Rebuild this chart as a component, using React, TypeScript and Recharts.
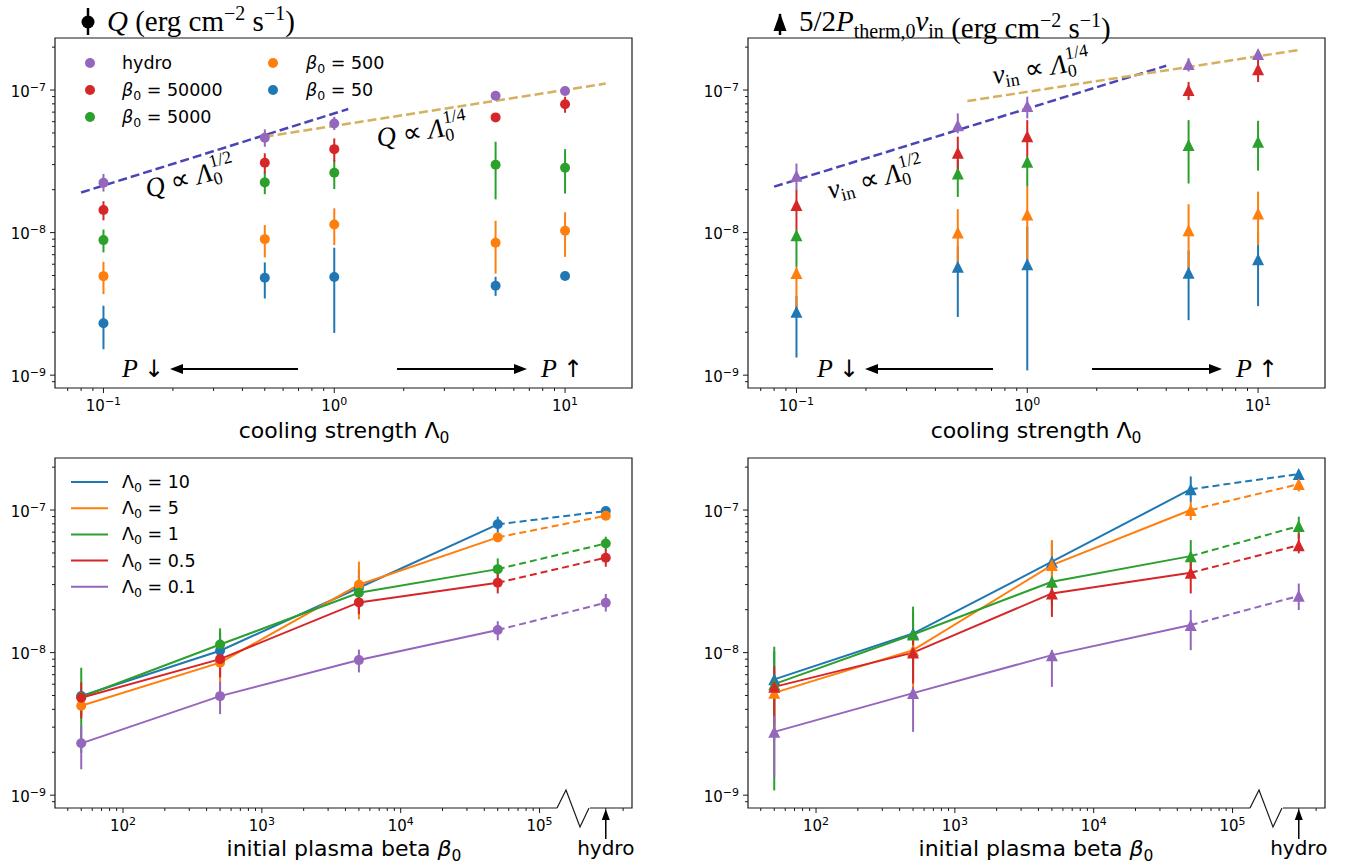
import React from "react";
import {
  ComposedChart,
  Scatter,
  Line,
  XAxis,
  YAxis,
  ErrorBar,
  ReferenceArea,
} from "recharts";

const SANS = "DejaVu Sans";
const SERIF = "Liberation Serif";
const INK = "#1a1a1a";

const BLUE = "#1f77b4";
const ORANGE = "#ff7f0e";
const GREEN = "#2ca02c";
const RED = "#d62728";
const PURPLE = "#9467bd";
const FIT_HALF = "#4a45b5";
const FIT_QUARTER = "#d4b060";

// cooling strengths and initial plasma beta of the runs
const LAMBDA = [0.1, 0.5, 1, 5, 10];
const BETA = [50, 500, 5000, 50000];
const HYDRO_X = 3e5; // where the hydro runs sit on the beta axis

// heating rate Q per beta run, one value per LAMBDA
const qBeta50 = [2.31e-9, 4.82e-9, 4.88e-9, 4.24e-9, 4.96e-9];
const qBeta500 = [4.95e-9, 9.0e-9, 1.14e-8, 8.5e-9, 1.03e-8];
const qBeta5000 = [8.86e-9, 2.25e-8, 2.63e-8, 2.99e-8, 2.85e-8];
const qBeta50000 = [1.44e-8, 3.09e-8, 3.85e-8, 6.43e-8, 7.94e-8];
const qHydro = [2.24e-8, 4.63e-8, 5.83e-8, 9.12e-8, 9.84e-8];

// [lower, upper] bounds of Q
const qBeta50Err = [[1.52e-9, 3.07e-9], [3.45e-9, 6.18e-9], [1.98e-9, 7.83e-9], [3.6e-9, 4.9e-9], [4.65e-9, 5.31e-9]];
const qBeta500Err = [[3.7e-9, 6.24e-9], [6.7e-9, 1.13e-8], [8.17e-9, 1.48e-8], [5.16e-9, 1.21e-8], [6.76e-9, 1.39e-8]];
const qBeta5000Err = [[7.26e-9, 1.05e-8], [1.86e-8, 2.67e-8], [2.02e-8, 3.23e-8], [1.71e-8, 4.34e-8], [1.88e-8, 3.85e-8]];
const qBeta50000Err = [[1.22e-8, 1.66e-8], [2.6e-8, 3.6e-8], [3.14e-8, 4.58e-8], [6.0e-8, 6.86e-8], [6.93e-8, 8.98e-8]];
const qHydroErr = [[1.94e-8, 2.58e-8], [4.0e-8, 5.3e-8], [5.24e-8, 6.5e-8], [8.5e-8, 9.73e-8], [9.23e-8, 1.04e-7]];

// inflow enthalpy flux 5/2 P v_in per beta run
const vBeta50 = [2.78e-9, 5.75e-9, 6.01e-9, 5.22e-9, 6.49e-9];
const vBeta500 = [5.2e-9, 1.0e-8, 1.34e-8, 1.04e-8, 1.36e-8];
const vBeta5000 = [9.6e-9, 2.6e-8, 3.14e-8, 4.11e-8, 4.34e-8];
const vBeta50000 = [1.56e-8, 3.63e-8, 4.75e-8, 1.0e-7, 1.4e-7];
const vHydro = [2.5e-8, 5.67e-8, 7.72e-8, 1.52e-7, 1.79e-7];

const vBeta50Err = [[1.33e-9, 3.6e-9], [2.56e-9, 8.0e-9], [1.08e-9, 1.1e-8], [2.43e-9, 7.5e-9], [3.05e-9, 1.02e-8]];
const vBeta500Err = [[2.78e-9, 5.75e-9], [6.08e-9, 1.46e-8], [6.41e-9, 2.1e-8], [5.46e-9, 1.58e-8], [8.17e-9, 1.94e-8]];
const vBeta5000Err = [[5.75e-9, 1.04e-8], [1.78e-8, 3.23e-8], [2.1e-8, 3.4e-8], [2.21e-8, 6.15e-8], [2.72e-8, 6.09e-8]];
const vBeta50000Err = [[1.04e-8, 1.99e-8], [2.6e-8, 4.71e-8], [3.4e-8, 6.15e-8], [8.5e-8, 1.14e-7], [1.14e-7, 1.72e-7]];
const vHydroErr = [[1.99e-8, 3.05e-8], [4.97e-8, 6.86e-8], [6.33e-8, 8.98e-8], [1.35e-7, 1.67e-7], [1.67e-7, 1.91e-7]];

// power-law guide lines (end points)
const fitQHalfX = [0.08, 1.15];
const fitQHalfY = [1.91e-8, 7.36e-8];
const fitQQuarterX = [0.5, 15];
const fitQQuarterY = [4.71e-8, 1.11e-7];
const fitVHalfX = [0.08, 4];
const fitVHalfY = [2.1e-8, 1.48e-7];
const fitVQuarterX = [0.55, 15];
const fitVQuarterY = [8.37e-8, 1.91e-7];

// axis ticks
const Y_MAJOR = [1e-9, 1e-8, 1e-7];
const LAMBDA_MAJOR = [0.1, 1, 10];
const BETA_MAJOR = [1e2, 1e3, 1e4, 1e5];

const Y_DOMAIN: [number, number] = [10 ** -9.09, 10 ** -6.635];
const LAMBDA_DOMAIN: [number, number] = [10 ** -1.21, 10 ** 1.29];
const BETA_DOMAIN: [number, number] = [10 ** 1.51, 10 ** 5.666];

type Run = {
  name: string;
  color: string;
  q: number[];
  qErr: number[][];
  v: number[];
  vErr: number[][];
};

// beta runs in drawing order (hydro on top)
const RUNS: Run[] = [
  { name: "50", color: BLUE, q: qBeta50, qErr: qBeta50Err, v: vBeta50, vErr: vBeta50Err },
  { name: "500", color: ORANGE, q: qBeta500, qErr: qBeta500Err, v: vBeta500, vErr: vBeta500Err },
  { name: "5000", color: GREEN, q: qBeta5000, qErr: qBeta5000Err, v: vBeta5000, vErr: vBeta5000Err },
  { name: "50000", color: RED, q: qBeta50000, qErr: qBeta50000Err, v: vBeta50000, vErr: vBeta50000Err },
  { name: "hydro", color: PURPLE, q: qHydro, qErr: qHydroErr, v: vHydro, vErr: vHydroErr },
];

// cooling-strength series for the lower panels
const LAMBDA_SERIES = [
  { name: "10", idx: 4, color: BLUE },
  { name: "5", idx: 3, color: ORANGE },
  { name: "1", idx: 2, color: GREEN },
  { name: "0.5", idx: 1, color: RED },
  { name: "0.1", idx: 0, color: PURPLE },
];

const PLOT_W = 577;
const PLOT_H = 350;
const AXIS_W = 55;
const PAD_TOP = 10;
const PAD_RIGHT = 12;
const XAXIS_H = 40;

const PANELS = {
  tl: { left: 55, top: 38 },
  tr: { left: 748, top: 38 },
  bl: { left: 55, top: 458 },
  br: { left: 748, top: 458 },
};

const logTicks = (lo: number, hi: number) => {
  const out: number[] = [];
  for (let e = Math.floor(Math.log10(lo)); e <= Math.ceil(Math.log10(hi)); e++) {
    for (let m = 1; m < 10; m++) {
      const v = m * 10 ** e;
      if (v >= lo && v <= hi) out.push(v);
    }
  }
  return out;
};

const isMajor = (v: number, majors: number[]) =>
  majors.some((m) => Math.abs(v / m - 1) < 1e-6);

const expText = (v: number) => {
  const e = Math.round(Math.log10(v));
  return e < 0 ? "\u2212" + Math.abs(e) : String(e);
};

const makeXTick = (majors: number[]) => (props: any) => {
  const { x, y, payload } = props;
  const major = isMajor(payload.value, majors);
  return (
    <g>
      <line x1={x} x2={x} y1={y} y2={y + (major ? 5 : 3)} stroke={INK} strokeWidth={1} />
      {major && (
        <text x={x} y={y + 23} textAnchor="middle" fontFamily={SANS} fontSize={15} fill="#000">
          10
          <tspan dy={-6} fontSize={11}>
            {expText(payload.value)}
          </tspan>
        </text>
      )}
    </g>
  );
};

const YTick = (props: any) => {
  const { x, y, payload } = props;
  const major = isMajor(payload.value, Y_MAJOR);
  return (
    <g>
      <line x1={x - (major ? 5 : 3)} x2={x} y1={y} y2={y} stroke={INK} strokeWidth={1} />
      {major && (
        <text x={x - 9} y={y + 6.5} textAnchor="end" fontFamily={SANS} fontSize={15} fill="#000">
          10
          <tspan dy={-6} fontSize={11}>
            {expText(payload.value)}
          </tspan>
        </text>
      )}
    </g>
  );
};

const point = (x: number, y: number, b: number[]) => ({ x, y, err: [y - b[0], b[1] - y] });

const dot = (color: string) => (p: any) => <circle cx={p.cx} cy={p.cy} r={5} fill={color} />;
const tri = (color: string) => (p: any) => (
  <path
    d={`M${p.cx},${p.cy - 6}L${p.cx - 6},${p.cy + 6}L${p.cx + 6},${p.cy + 6}Z`}
    fill={color}
  />
);

const errorBar = (color: string) => (
  <ErrorBar dataKey="err" direction="y" width={0} stroke={color} strokeWidth={2} />
);

function fitLine(key: string, xs: number[], ys: number[], color: string) {
  const data = xs.map((x, i) => ({ x, y: ys[i] }));
  return (
    <Line
      key={key}
      data={data}
      dataKey="y"
      type="linear"
      stroke={color}
      strokeWidth={2.5}
      strokeDasharray="9 4"
      dot={false}
      activeDot={false}
      legendType="none"
      isAnimationActive={false}
    />
  );
}

function topSeries(kind: "q" | "v", marker: (c: string) => (p: any) => React.ReactElement) {
  return RUNS.map((run) => {
    const vals = kind === "q" ? run.q : run.v;
    const errs = kind === "q" ? run.qErr : run.vErr;
    const pts = LAMBDA.map((x, i) => point(x, vals[i], errs[i]));
    return (
      <Scatter
        key={`${kind}-${run.name}`}
        data={pts}
        dataKey="y"
        fill={run.color}
        shape={marker(run.color)}
        isAnimationActive={false}
      >
        {errorBar(run.color)}
      </Scatter>
    );
  });
}

function bottomSeries(kind: "q" | "v", marker: (c: string) => (p: any) => React.ReactElement) {
  const xs = [...BETA, HYDRO_X];
  return LAMBDA_SERIES.flatMap((s) => {
    const pts = RUNS.map((run, j) =>
      kind === "q"
        ? point(xs[j], run.q[s.idx], run.qErr[s.idx])
        : point(xs[j], run.v[s.idx], run.vErr[s.idx])
    );
    return [
      <Line
        key={`${kind}-${s.name}-solid`}
        data={pts.slice(0, 4)}
        dataKey="y"
        type="linear"
        stroke={s.color}
        strokeWidth={2}
        dot={false}
        activeDot={false}
        isAnimationActive={false}
      />,
      <Line
        key={`${kind}-${s.name}-dash`}
        data={pts.slice(3)}
        dataKey="y"
        type="linear"
        stroke={s.color}
        strokeWidth={2}
        strokeDasharray="7 4"
        dot={false}
        activeDot={false}
        isAnimationActive={false}
      />,
      <Scatter
        key={`${kind}-${s.name}-pts`}
        data={pts}
        dataKey="y"
        fill={s.color}
        shape={marker(s.color)}
        isAnimationActive={false}
      >
        {errorBar(s.color)}
      </Scatter>,
    ];
  });
}

function Panel(props: {
  pos: { left: number; top: number };
  xDomain: [number, number];
  xMajor: number[];
  children: React.ReactNode;
}) {
  const { pos, xDomain, xMajor, children } = props;
  return (
    <div style={{ position: "absolute", left: pos.left - AXIS_W, top: pos.top - PAD_TOP }}>
      <ComposedChart
        width={AXIS_W + PLOT_W + PAD_RIGHT}
        height={PAD_TOP + PLOT_H + XAXIS_H}
        margin={{ top: PAD_TOP, right: PAD_RIGHT, bottom: 0, left: 0 }}
      >
        <XAxis
          type="number"
          dataKey="x"
          scale="log"
          domain={xDomain}
          allowDataOverflow
          ticks={logTicks(xDomain[0], xDomain[1])}
          interval={0}
          tick={makeXTick(xMajor)}
          tickSize={0}
          tickMargin={0}
          axisLine={false}
          tickLine={false}
          height={XAXIS_H}
        />
        <YAxis
          type="number"
          dataKey="y"
          scale="log"
          domain={Y_DOMAIN}
          allowDataOverflow
          ticks={logTicks(Y_DOMAIN[0], Y_DOMAIN[1])}
          interval={0}
          tick={YTick}
          tickSize={0}
          tickMargin={0}
          axisLine={false}
          tickLine={false}
          width={AXIS_W}
        />
        <ReferenceArea
          x1={xDomain[0]}
          x2={xDomain[1]}
          y1={Y_DOMAIN[0]}
          y2={Y_DOMAIN[1]}
          fill="none"
          fillOpacity={0}
          stroke={INK}
          strokeWidth={1.2}
          ifOverflow="visible"
        />
        {children}
      </ComposedChart>
    </div>
  );
}

function HydroMark({ left, axisY }: { left: number; axisY: number }) {
  const span = Math.log10(BETA_DOMAIN[1]) - Math.log10(BETA_DOMAIN[0]);
  const hx = left + (PLOT_W * (Math.log10(HYDRO_X) - Math.log10(BETA_DOMAIN[0]))) / span;
  return (
    <g>
      <rect x={left + 502} y={axisY - 2} width={33} height={8} fill="#fff" />
      <polyline
        points={`${left + 502},${axisY} ${left + 511},${axisY - 18} ${left + 525},${axisY + 19} ${left + 534},${axisY}`}
        fill="none"
        stroke={INK}
        strokeWidth={1.2}
      />
      <line x1={hx} x2={hx} y1={axisY + 31} y2={axisY + 10} stroke="#000" strokeWidth={1.5} />
      <polygon points={`${hx},${axisY + 1} ${hx - 4},${axisY + 12} ${hx + 4},${axisY + 12}`} fill="#000" />
      <text x={hx} y={axisY + 47} textAnchor="middle" fontFamily={SANS} fontSize={20} fill="#000">
        hydro
      </text>
    </g>
  );
}

function PressureArrows({ dx }: { dx: number }) {
  const y = 369;
  return (
    <g fontFamily={SERIF} fontSize={26} fill="#000">
      <text x={122 + dx} y={377}>
        <tspan fontStyle="italic">P</tspan>
        <tspan dx={6} fontFamily={SANS} fontSize={24}>
          {"\u2193"}
        </tspan>
      </text>
      <line x1={298 + dx} x2={180 + dx} y1={y} y2={y} stroke="#000" strokeWidth={2} />
      <polygon points={`${170 + dx},${y} ${183 + dx},${y - 5} ${183 + dx},${y + 5}`} fill="#000" />
      <line x1={397 + dx} x2={517 + dx} y1={y} y2={y} stroke="#000" strokeWidth={2} />
      <polygon points={`${527 + dx},${y} ${514 + dx},${y - 5} ${514 + dx},${y + 5}`} fill="#000" />
      <text x={541 + dx} y={377}>
        <tspan fontStyle="italic">P</tspan>
        <tspan dx={6} fontFamily={SANS} fontSize={24}>
          {"\u2191"}
        </tspan>
      </text>
    </g>
  );
}

// "(erg cm^-2 s^-1)" unit string; expects to start on the main baseline
function Units() {
  return (
    <>
      <tspan>{" (erg cm"}</tspan>
      <tspan dy={-11} fontSize={20}>
        {"\u22122"}
      </tspan>
      <tspan dy={11}>{" s"}</tspan>
      <tspan dy={-11} fontSize={20}>
        {"\u22121"}
      </tspan>
      <tspan dy={11}>)</tspan>
    </>
  );
}

function ScalingLabel(props: {
  x: number;
  y: number;
  angle: number;
  vin: boolean;
  power: string;
}) {
  const { x, y, angle, vin, power } = props;
  return (
    <text x={x} y={y} transform={`rotate(${angle} ${x} ${y})`}>
      <tspan fontStyle="italic">{vin ? "v" : "Q"}</tspan>
      {vin && (
        <tspan dy={5} fontSize={18}>
          in
        </tspan>
      )}
      <tspan dy={vin ? -5 : 0}>{" \u221d "}</tspan>
      <tspan fontStyle="italic">{"\u039b"}</tspan>
      <tspan dy={5} fontSize={18}>
        0
      </tspan>
      <tspan dx={-9} dy={-18} fontSize={18}>
        {power}
      </tspan>
    </text>
  );
}

function Overlay() {
  const legendRuns = [...RUNS].reverse();
  return (
    <svg
      width={1354}
      height={868}
      style={{ position: "absolute", left: 0, top: 0, pointerEvents: "none" }}
    >
      {/* panel titles */}
      <line x1={88} x2={88} y1={8} y2={35} stroke="#000" strokeWidth={2.5} />
      <circle cx={88} cy={22} r={6.5} fill="#000" />
      <text x={107} y={31} fontFamily={SERIF} fontSize={29} fill="#000">
        <tspan fontStyle="italic">Q</tspan>
        <Units />
      </text>

      <line x1={780} x2={780} y1={14} y2={35} stroke="#000" strokeWidth={2.5} />
      <polygon points="780,13 773.5,31 786.5,31" fill="#000" />
      <text x={799} y={31} fontFamily={SERIF} fontSize={29} fill="#000">
        <tspan>5/2</tspan>
        <tspan fontStyle="italic">P</tspan>
        <tspan dy={7} fontSize={20}>
          therm,0
        </tspan>
        <tspan dy={-7} fontStyle="italic">
          v
        </tspan>
        <tspan dy={7} fontSize={20}>
          in
        </tspan>
        <tspan dy={-7}>{""}</tspan>
        <Units />
      </text>

      {/* scaling annotations */}
      <g fontFamily={SERIF} fontSize={27} fill="#000">
        <ScalingLabel x={148} y={198} angle={-15} vin={false} power="1/2" />
        <ScalingLabel x={378} y={147} angle={-9} vin={false} power="1/4" />
        <ScalingLabel x={830} y={199} angle={-14} vin power="1/2" />
        <ScalingLabel x={994} y={84} angle={-9} vin power="1/4" />
      </g>

      <PressureArrows dx={0} />
      <PressureArrows dx={695} />

      {/* legend of the beta runs */}
      {legendRuns.map((run, k) => {
        const col = k < 3 ? 0 : 1;
        const y = 63 + (k % 3) * 27;
        const mx = col === 0 ? 90 : 273;
        const tx = col === 0 ? 122 : 306;
        return (
          <g key={run.name}>
            <circle cx={mx} cy={y} r={5} fill={run.color} />
            <text x={tx} y={y + 6} fontFamily={SANS} fontSize={17.5} fill="#000">
              {run.name === "hydro" ? (
                "hydro"
              ) : (
                <>
                  <tspan fontStyle="italic">{"\u03b2"}</tspan>
                  <tspan dy={4} fontSize={12.5}>
                    0
                  </tspan>
                  <tspan dy={-4}>{` = ${run.name}`}</tspan>
                </>
              )}
            </text>
          </g>
        );
      })}

      {/* legend of the cooling strengths */}
      {LAMBDA_SERIES.map((s, k) => {
        const y = 482 + k * 26.2;
        return (
          <g key={s.name}>
            <line x1={71} x2={108} y1={y} y2={y} stroke={s.color} strokeWidth={2} />
            <text x={122} y={y + 6} fontFamily={SANS} fontSize={17.5} fill="#000">
              {"\u039b"}
              <tspan dy={4} fontSize={12.5}>
                0
              </tspan>
              <tspan dy={-4}>{` = ${s.name}`}</tspan>
            </text>
          </g>
        );
      })}

      {/* axis titles */}
      <g fontFamily={SANS} fontSize={22} fill="#000" textAnchor="middle">
        {[344, 1036].map((cx) => (
          <text key={`c${cx}`} x={cx} y={438}>
            {"cooling strength \u039b"}
            <tspan dy={5} fontSize={15.5}>
              0
            </tspan>
          </text>
        ))}
        {[344, 1036].map((cx) => (
          <text key={`b${cx}`} x={cx} y={856}>
            {"initial plasma beta "}
            <tspan fontStyle="italic">{"\u03b2"}</tspan>
            <tspan dy={5} fontSize={15.5}>
              0
            </tspan>
          </text>
        ))}
      </g>

      <HydroMark left={PANELS.bl.left} axisY={PANELS.bl.top + PLOT_H} />
      <HydroMark left={PANELS.br.left} axisY={PANELS.br.top + PLOT_H} />
    </svg>
  );
}

export default function App() {
  return (
    <div
      style={{
        position: "absolute",
        left: 0,
        top: 0,
        width: 1354,
        height: 868,
        background: "#fff",
        overflow: "hidden",
      }}
    >
      <Panel pos={PANELS.tl} xDomain={LAMBDA_DOMAIN} xMajor={LAMBDA_MAJOR}>
        {fitLine("fq-half", fitQHalfX, fitQHalfY, FIT_HALF)}
        {fitLine("fq-quarter", fitQQuarterX, fitQQuarterY, FIT_QUARTER)}
        {topSeries("q", dot)}
      </Panel>
      <Panel pos={PANELS.tr} xDomain={LAMBDA_DOMAIN} xMajor={LAMBDA_MAJOR}>
        {fitLine("fv-half", fitVHalfX, fitVHalfY, FIT_HALF)}
        {fitLine("fv-quarter", fitVQuarterX, fitVQuarterY, FIT_QUARTER)}
        {topSeries("v", tri)}
      </Panel>
      <Panel pos={PANELS.bl} xDomain={BETA_DOMAIN} xMajor={BETA_MAJOR}>
        {bottomSeries("q", dot)}
      </Panel>
      <Panel pos={PANELS.br} xDomain={BETA_DOMAIN} xMajor={BETA_MAJOR}>
        {bottomSeries("v", tri)}
      </Panel>
      <Overlay />
    </div>
  );
}
